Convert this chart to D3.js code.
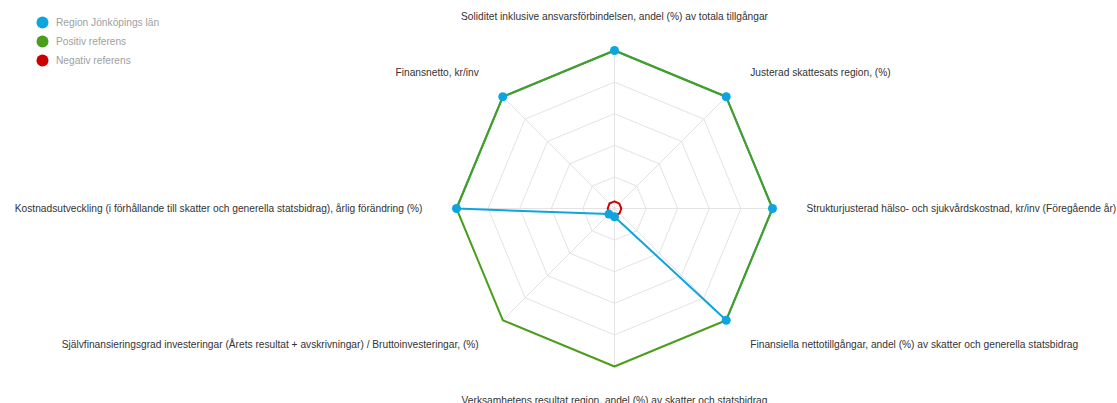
<!DOCTYPE html>
<html>
<head>
<meta charset="utf-8">
<script src="https://cdn.jsdelivr.net/npm/d3@7"></script>
<style>
  html, body { margin: 0; padding: 0; background: #fff; overflow: hidden; }
  svg { display: block; font-family: "Liberation Sans", Arial, sans-serif; }
</style>
</head>
<body>
<svg id="chart" width="1117" height="403"></svg>
<script>
// Axes of the spider chart, clockwise from the top
const categories = [
  "Soliditet inklusive ansvarsförbindelsen, andel (%) av totala tillgångar",
  "Justerad skattesats region, (%)",
  "Strukturjusterad hälso- och sjukvårdskostnad, kr/inv (Föregående år)",
  "Finansiella nettotillgångar, andel (%) av skatter och generella statsbidrag",
  "Verksamhetens resultat region, andel (%) av skatter och statsbidrag",
  "Självfinansieringsgrad investeringar (Årets resultat + avskrivningar) / Bruttoinvesteringar, (%)",
  "Kostnadsutveckling (i förhållande till skatter och generella statsbidrag), årlig förändring (%)",
  "Finansnetto, kr/inv"
];

// Normalised scores (0 = negative reference, 1 = positive reference)
const regionValues   = [1, 1, 1, 1, 0.052, 0.05, 1, 1];
const positiveValues = [1, 1, 1, 1, 1, 1, 1, 1];
const negativeValues = [0.045, 0.043, 0.043, 0.045, 0.045, 0.045, 0.043, 0.045];

const gridLevels = [0.2, 0.4, 0.6, 0.8, 1.0];

const seriesNames  = ["Region Jönköpings län", "Positiv referens", "Negativ referens"];
const seriesColors = ["#0ea5df", "#4b9e1c", "#cc0000"];

const svg = d3.select("#chart");
const cx = 614.5, cy = 208.5;
const g = svg.append("g").attr("transform", `translate(${cx},${cy})`);

const r = d3.scaleLinear().domain([0, 1]).range([0, 158]);
const angle = d3.scaleLinear().domain([0, categories.length]).range([0, 2 * Math.PI]);

const radial = d3.lineRadial()
  .angle((d, i) => angle(i))
  .radius(d => r(d))
  .curve(d3.curveLinearClosed);

// Web grid
g.selectAll("path.grid")
  .data(gridLevels)
  .join("path")
  .attr("class", "grid")
  .attr("d", lv => radial(categories.map(() => lv)))
  .attr("fill", "none")
  .attr("stroke", "#e3e3e3")
  .attr("stroke-width", 1);

// Spokes
g.selectAll("line.spoke")
  .data(categories)
  .join("line")
  .attr("class", "spoke")
  .attr("x1", 0).attr("y1", 0)
  .attr("x2", (d, i) => r(1) * Math.sin(angle(i)))
  .attr("y2", (d, i) => -r(1) * Math.cos(angle(i)))
  .attr("stroke", "#e3e3e3")
  .attr("stroke-width", 1);

// Series outlines
const drawOutline = (vals, color) =>
  g.append("path")
    .attr("d", radial(vals))
    .attr("fill", "none")
    .attr("stroke", color)
    .attr("stroke-width", 2)
    .attr("stroke-linejoin", "round");

drawOutline(regionValues, seriesColors[0]);
drawOutline(positiveValues, seriesColors[1]);
drawOutline(negativeValues, seriesColors[2]);

// Markers for the region series
g.selectAll("circle.pt")
  .data(regionValues)
  .join("circle")
  .attr("class", "pt")
  .attr("cx", (d, i) => r(d) * Math.sin(angle(i)))
  .attr("cy", (d, i) => -r(d) * Math.cos(angle(i)))
  .attr("r", 4.5)
  .attr("fill", seriesColors[0]);

// Axis labels
const labelRadius = r(1) + 34;
g.selectAll("text.axis-label")
  .data(categories)
  .join("text")
  .attr("class", "axis-label")
  .attr("x", (d, i) => labelRadius * Math.sin(angle(i)))
  .attr("y", (d, i) => -labelRadius * Math.cos(angle(i)))
  .attr("dy", "0.35em")
  .attr("text-anchor", (d, i) => {
    const s = Math.sin(angle(i));
    return Math.abs(s) < 1e-6 ? "middle" : (s > 0 ? "start" : "end");
  })
  .attr("font-size", 10.2)
  .attr("fill", "#333")
  .text(d => d);

// Legend
const legend = svg.append("g").attr("transform", "translate(42.5,22.5)");
const item = legend.selectAll("g")
  .data(seriesNames)
  .join("g")
  .attr("transform", (d, i) => `translate(0,${i * 19})`);
item.append("circle")
  .attr("r", 6)
  .attr("fill", (d, i) => seriesColors[i]);
item.append("text")
  .attr("x", 13.5)
  .attr("dy", "0.35em")
  .attr("font-size", 10.2)
  .attr("fill", "#a0a0a0")
  .text(d => d);
</script>
</body>
</html>
